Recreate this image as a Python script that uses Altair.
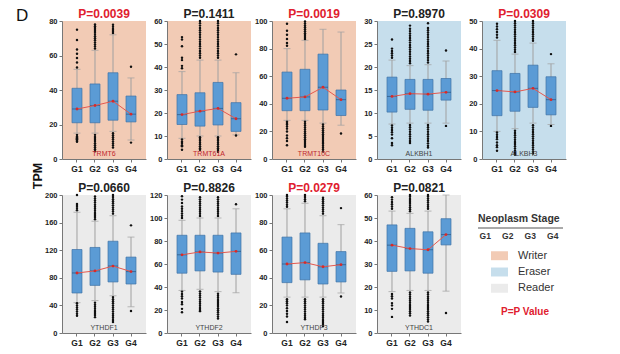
import altair as alt
import pandas as pd

GROUPS = ["G1", "G2", "G3", "G4"]
GENES = ["TRMT6", "TRMT61A", "TRMT10C", "ALKBH1", "ALKBH3",
         "YTHDF1", "YTHDF2", "YTHDF3", "YTHDC1"]
ROLES = ["Writer", "Writer", "Writer", "Eraser", "Eraser",
         "Reader", "Reader", "Reader", "Reader"]
P_VALUES = [0.0039, 0.1411, 0.0019, 0.8970, 0.0309, 0.0660, 0.8826, 0.0279, 0.0821]
Y_MAX = [80, 60, 100, 30, 50, 200, 120, 100, 60]
Y_STEP = [20, 10, 20, 5, 10, 40, 20, 20, 10]

Q1 = [[21, 21, 22.5, 21.5], [15, 14.3, 14.8, 12], [35, 35, 35.5, 31.5],
      [10.2, 10.8, 10.6, 12.8], [15.7, 17.3, 18.7, 16], [58, 69, 74, 71],
      [52, 54, 53, 51], [36.5, 38.5, 35.5, 37], [26.8, 27, 26, 38.3]]
Q3 = [[41, 43.5, 50, 36.5], [28, 28.8, 33.3, 24.5], [63, 65, 76, 50],
      [17.8, 17.3, 17.3, 17.5], [32, 31, 34, 29.8], [121, 124, 133, 110],
      [85, 85, 85, 87], [69.5, 72.5, 65, 59], [47, 45.5, 44, 49.7]]
MEDIAN = [[29, 31, 33.5, 26], [19.3, 20.8, 22, 17.5], [44, 45, 52, 43],
          [13.6, 14.2, 14.1, 14.5], [24.8, 24.3, 25.6, 21.5], [87, 90, 97, 89],
          [68, 70.5, 69.5, 71], [50, 51, 48, 49.5], [38.2, 36.7, 36.2, 42.8]]
MEAN = [[29, 31, 33.5, 26], [19.3, 20.8, 22, 17.5], [44, 45, 52, 43],
        [13.6, 14.2, 14.1, 14.5], [24.8, 24.3, 25.6, 21.5], [87, 90, 97, 89],
        [68, 70.5, 69.5, 71], [50, 51, 48, 49.5], [38.2, 36.7, 36.2, 42.8]]
WHISK_LO = [[15, 15, 16, 11], [9, 10, 10, 10.5], [28, 28, 26, 24.5],
            [7.6, 7.8, 7.8, 7.8], [10, 11, 13, 12.5], [44, 47, 54, 38],
            [37, 38, 36, 35], [26, 26, 26, 29], [18, 18.5, 18.5, 18.2]]
WHISK_HI = [[52, 63, 72, 47], [38, 43, 43, 37.5], [80, 86, 94, 92],
            [21.5, 20.3, 20.5, 21.3], [43, 38, 42, 34.5], [175, 162, 170, 139],
            [98, 100, 100, 108], [90, 94, 85, 78.5], [53, 52, 53, 60]]

OUTLIERS = [
    [[75, 69, 63.5, 61, 58.5, 56, 53, 14, 13, 12.5, 12, 11.5, 11, 10.5, 10],
     [64, 65.2, 66.4, 67.6, 68.8, 70, 71.2, 72.4, 73.6, 74.8, 76, 77, 78,
      14, 12.8, 11.6, 10.4, 9.2, 8, 6.8, 5.6, 4.5],
     [73, 74.2, 75.4, 76.6, 77.8, 15, 13.8, 12.6, 11.4, 10.2, 9, 7.8, 6.6],
     [53.5, 9.5]],
    [[39.5, 40.5, 43, 44, 49, 52, 53, 8.5, 7.5, 7, 6, 5.5, 4],
     [44, 45, 46, 47, 48, 49, 50, 51, 52, 53, 54, 55, 56, 57, 58, 59, 60,
      9.5, 8.7, 7.9, 7.1, 6.3, 5.5, 4.7, 4],
     [44, 45, 46, 47, 48, 49, 50, 51, 52, 53, 54, 55, 56, 57, 58, 59, 60,
      9.5, 8.7, 7.9, 7.1, 6.3, 5.5, 4.7, 3.9, 3.1],
     [45.5, 10.2]],
    [[82, 84, 87, 90, 93, 98, 27, 26, 25, 23.5, 22, 20, 17, 15, 13, 10],
     [87, 88.4, 89.8, 91.2, 92.6, 94, 95.4, 96.8, 98.2, 99.6,
      27, 25.6, 24.2, 22.8, 21.4, 20, 18.6, 17.2, 15.8, 14.4, 13, 11.6, 10.2, 8.8],
     [25, 23.6, 22.2, 20.8, 19.4, 18, 16.6, 15.2, 13.8, 12.4, 11, 9.6, 8.2, 6.8, 5.4],
     [18.5]],
    [[22, 22.5, 23, 23.5, 24, 26, 7.3, 6.8, 6.3, 5.8, 5.3, 4.5, 3.5, 3],
     [20.8, 21.3, 21.8, 22.3, 22.8, 23.3, 23.8, 24.3, 24.8, 25.3, 25.8, 26.3,
      26.8, 27.3, 27.8, 28.3, 29, 7.4, 6.9, 6.4, 5.9, 5.4, 4.9, 4.4, 3.9, 3.5],
     [21, 21.5, 22, 22.5, 23, 23.5, 24, 24.5, 25, 25.5, 26, 26.5, 27, 27.5, 28,
      28.5, 29.5, 7.4, 6.9, 6.4, 5.9, 5.4, 4.9, 4.4, 3.9, 3.4, 2.9, 2.5],
     [23.6, 7.2]],
    [[44, 45, 46, 47, 48, 49, 9.6, 8.8, 8, 7.2, 6, 5, 4.3, 3],
     [38.8, 39.6, 40.4, 41.2, 42, 42.8, 43.6, 44.4, 45.2, 46, 46.8, 47.6, 48.4,
      49.2, 50, 10.2, 9.4, 8.6, 7.8, 7, 6.2, 5.4, 4.6, 3.8, 3, 2.2, 1.5],
     [42.8, 43.6, 44.4, 45.2, 46, 46.8, 47.6, 48.4, 49.2, 50, 12.2, 11.4, 10.6,
      9.8, 9, 8.2, 7.4, 6.6, 5.8, 5, 4.2, 3.4, 2.6, 2],
     [38, 12]],
    [[178, 181, 184, 187, 200, 43, 40, 37, 34, 31, 28, 25],
     [165, 168, 171, 174, 177, 180, 183, 186, 189, 192, 195, 198,
      44, 41, 38, 35, 32, 29, 26, 23],
     [173, 176, 179, 182, 185, 188, 191, 194, 197, 200,
      52, 49, 46, 43, 40, 37, 34, 31, 28, 25, 22, 19, 16],
     [156, 32]],
    [[100, 102, 104, 106, 108, 110, 113, 116, 119, 36, 34, 32, 30, 27, 25, 21, 18],
     [101.8, 103.6, 105.4, 107.2, 109, 110.8, 112.6, 114.4, 116.2, 118,
      36.2, 34.4, 32.6, 30.8, 29, 27.2, 25.4, 23.6, 21.8, 20, 19],
     [101.8, 103.6, 105.4, 107.2, 109, 110.8, 112.6, 114.4, 116.2, 118,
      34.2, 32.4, 30.6, 28.8, 27, 25.2, 23.4, 21.6, 19.8, 18, 16.2, 14.4, 12.6],
     [112]],
    [[91.5, 93, 94.5, 96, 97.5, 99, 100, 24.5, 23, 21.5, 20, 18, 16, 14, 12, 8],
     [95.5, 97, 98.5, 100, 24.5, 23, 21.5, 20, 18.5, 17, 15.5, 14, 12.5, 11, 10],
     [86.5, 88, 89.5, 91, 92.5, 94, 95.5, 97, 98,
      24.5, 23, 21.5, 20, 18.5, 17, 15.5, 14, 12.5, 11, 9.5, 8, 6.5, 5],
     [90.5, 26.5]],
    [[54, 55, 56, 57, 58, 59, 17, 16, 15, 13, 12, 10.5, 7],
     [52.9, 53.8, 54.7, 55.6, 56.5, 57.4, 58.3, 59.2, 60,
      17.6, 16.7, 15.8, 14.9, 14, 13.1, 12.2, 11.3, 10.4, 9.5, 8.6, 7.6],
     [54, 54.9, 55.8, 56.7, 57.6, 58.5, 59.4, 60,
      17.6, 16.7, 15.8, 14.9, 14, 13.1, 12.2, 11.3, 10.4, 9.5, 8.6, 7.7, 6.8, 5.9, 5],
     [8.7]],
]

LEGEND_ROLES = ["Writer", "Eraser", "Reader"]
ROLE_BG = {"Writer": "#f2cbb5", "Eraser": "#c6deec", "Reader": "#ebebeb"}
ROLE_LABEL = {"Writer": "#c0272d", "Eraser": "#444444", "Reader": "#444444"}

FONT = "Liberation Sans"
W, H = 84, 138


def panel(i):
    box = pd.DataFrame({"g": GROUPS, "q1": Q1[i], "q3": Q3[i], "med": MEDIAN[i],
                        "mean": MEAN[i], "lo": WHISK_LO[i], "hi": WHISK_HI[i]})
    out = pd.DataFrame([{"g": g, "v": v}
                        for g, vals in zip(GROUPS, OUTLIERS[i]) for v in vals])
    xenc = alt.X("g:N", scale=alt.Scale(domain=GROUPS, paddingInner=0, paddingOuter=0.333),
                 axis=alt.Axis(title=None, labelAngle=0, labelFontSize=8.5, labelFontWeight="bold",
                               labelColor="#222", tickSize=3, labelPadding=2, domainColor="#777",
                               tickColor="#777", labelFont=FONT))
    ysc = alt.Scale(domain=[0, Y_MAX[i]], nice=False, zero=True)
    yax = alt.Axis(title=None, values=list(range(0, Y_MAX[i] + 1, Y_STEP[i])), grid=False,
                   labelFontSize=7.5, labelFontWeight="bold", labelColor="#222", tickSize=3,
                   labelPadding=2, domainColor="#777", tickColor="#777", labelFont=FONT)

    base = alt.Chart(box)
    whisk = base.mark_rule(color="#a0a0a0", strokeWidth=1).encode(
        x=xenc, y=alt.Y("lo:Q", scale=ysc, axis=yax), y2="hi:Q")
    cap_lo = base.mark_tick(color="#a0a0a0", size=7, thickness=1).encode(
        x=xenc, y=alt.Y("lo:Q", scale=ysc, axis=yax))
    cap_hi = base.mark_tick(color="#a0a0a0", size=7, thickness=1).encode(
        x=xenc, y=alt.Y("hi:Q", scale=ysc, axis=yax))
    boxes = base.mark_bar(size=10, color="#5b9bd5", stroke="#3f73a6", strokeWidth=0.7).encode(
        x=xenc, y=alt.Y("q1:Q", scale=ysc, axis=yax), y2="q3:Q")
    med = base.mark_tick(color="#2a5580", size=10, thickness=1).encode(
        x=xenc, y=alt.Y("med:Q", scale=ysc, axis=yax))
    mline = base.mark_line(color="#e4584f", strokeWidth=1).encode(
        x=xenc, y=alt.Y("mean:Q", scale=ysc, axis=yax))
    mpt = base.mark_circle(color="#d62a2a", size=8, opacity=1).encode(
        x=xenc, y=alt.Y("mean:Q", scale=ysc, axis=yax))
    outs = alt.Chart(out).mark_circle(color="#111", size=6, opacity=1).encode(
        x=xenc, y=alt.Y("v:Q", scale=ysc, axis=yax))
    lab = alt.Chart(pd.DataFrame({"t": [GENES[i]]})).mark_text(
        fontSize=7, font=FONT, color=ROLE_LABEL[ROLES[i]], baseline="bottom").encode(
        x=alt.value(W / 2), y=alt.value(H - 2), text="t:N")
    p = P_VALUES[i]
    ptxt = alt.Chart(pd.DataFrame({"t": [f"P={p:.4f}"]})).mark_text(
        fontSize=12, fontWeight="bold", font=FONT, baseline="alphabetic",
        color="#e0202e" if p < 0.05 else "#222222").encode(
        x=alt.value(W / 2), y=alt.value(-3), text="t:N")

    layers = [whisk, cap_lo, cap_hi, boxes, med, mline, mpt, outs, lab, ptxt]
    if i == 0:
        dtxt = alt.Chart(pd.DataFrame({"t": ["D"]})).mark_text(
            fontSize=17, font=FONT, color="#111", align="left", baseline="alphabetic").encode(
            x=alt.value(-46), y=alt.value(0), text="t:N")
        tpm = alt.Chart(pd.DataFrame({"t": ["TPM"]})).mark_text(
            fontSize=12.5, font=FONT, fontWeight="bold", color="#111", angle=270,
            baseline="middle").encode(x=alt.value(-24), y=alt.value(155), text="t:N")
        layers += [dtxt, tpm]

    return alt.layer(*layers).properties(
        width=W, height=H,
        view=alt.ViewBackground(fill=ROLE_BG[ROLES[i]], stroke=None))


def legend():
    roles = pd.DataFrame({"role": LEGEND_ROLES})
    yenc = alt.Y("role:N", scale=alt.Scale(domain=LEGEND_ROLES, range=[53, 101],
                                           paddingInner=0.45, paddingOuter=0.2), axis=None)
    sw = alt.Chart(roles).mark_rect().encode(
        x=alt.value(9), x2=alt.value(26), y=yenc,
        color=alt.Color("role:N", scale=alt.Scale(domain=LEGEND_ROLES,
                                                  range=[ROLE_BG[r] for r in LEGEND_ROLES]),
                        legend=None))
    txt = alt.Chart(roles).mark_text(fontSize=11, font=FONT, color="#333", align="left",
                                     baseline="middle").encode(
        x=alt.value(36), y=yenc, text="role:N")
    head = alt.Chart(pd.DataFrame({"t": ["Neoplasm Stage"]})).mark_text(
        fontSize=10.5, fontWeight="bold", font=FONT, color="#333", align="left",
        baseline="middle").encode(x=alt.value(-4), y=alt.value(24), text="t:N")
    rule = alt.Chart(pd.DataFrame({"t": [0]})).mark_rule(color="#555", strokeWidth=1).encode(
        x=alt.value(-4), x2=alt.value(81), y=alt.value(33))
    grp = alt.Chart(pd.DataFrame({"g": GROUPS})).mark_text(
        fontSize=8.5, fontWeight="bold", font=FONT, color="#333", baseline="middle").encode(
        x=alt.X("g:N", scale=alt.Scale(domain=GROUPS, range=[-8, 82]), axis=None),
        y=alt.value(41), text="g:N")
    pv = alt.Chart(pd.DataFrame({"t": ["P=P Value"]})).mark_text(
        fontSize=10, fontWeight="bold", font=FONT, color="#e0202e", baseline="middle").encode(
        x=alt.value(43), y=alt.value(117), text="t:N")
    return alt.layer(sw, txt, head, rule, grp, pv).properties(
        width=W, height=H, view=alt.ViewBackground(fill=None, stroke=None))


items = [panel(i) for i in range(9)]
items = items[:5] + items[5:] + [legend()]

chart = alt.concat(*items, columns=5, spacing={"row": 36, "column": 21}, bounds="flush").properties(
    padding={"left": 16, "top": 7, "right": 5, "bottom": 3}
).configure_view(stroke=None).configure(background="white")

chart.save("out.html", embed_options={"renderer": "svg", "actions": False})
